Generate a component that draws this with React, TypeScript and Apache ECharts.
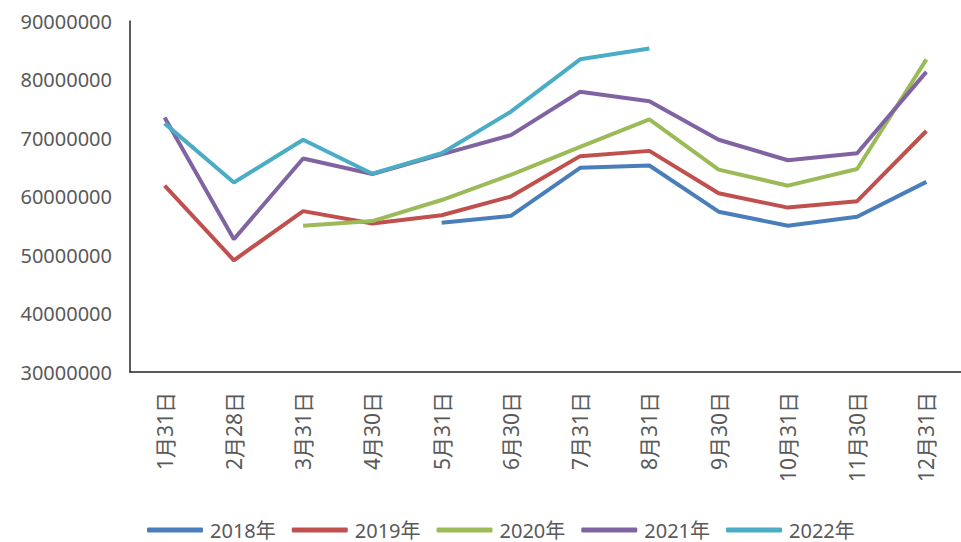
import React, { useEffect, useRef } from "react";
import * as echarts from "echarts";

const categories = ["1月31日", "2月28日", "3月31日", "4月30日", "5月31日", "6月30日", "7月31日", "8月31日", "9月30日", "10月31日", "11月30日", "12月31日"];
const yAxisTicks = [30000000, 40000000, 50000000, 60000000, 70000000, 80000000, 90000000];
const seriesNames = ["2018年", "2019年", "2020年", "2021年", "2022年"];
const s2018 = [null, null, null, null, 55500000, 56700000, 64900000, 65300000, 57400000, 55000000, 56550000, 62500000];
const s2019 = [61850000, 49100000, 57500000, 55400000, 56800000, 60000000, 66900000, 67800000, 60550000, 58100000, 59200000, 71200000];
const s2020 = [null, null, 55000000, 55800000, 59400000, 63700000, 68500000, 73200000, 64600000, 61850000, 64700000, 83450000];
const s2021 = [73500000, 52700000, 66500000, 63850000, 67200000, 70500000, 77900000, 76300000, 69700000, 66200000, 67400000, 81300000];
const s2022 = [72500000, 62400000, 69700000, 63900000, 67400000, 74500000, 83450000, 85300000, null, null, null, null];
const colors = ["#4A7EBB", "#C0504D", "#9BBB59", "#8064A2", "#4BACC6"];

export default function App() {
  const ref = useRef<HTMLDivElement>(null);
  useEffect(() => {
    if (!ref.current) return;
    const chart = echarts.init(ref.current, null, { renderer: "svg" });
    const data = [s2018, s2019, s2020, s2021, s2022];
    chart.setOption({
      animation: false,
      color: colors,
      grid: { left: 130, top: 21, bottom: 170, right: -17, containLabel: false },
      legend: {
        top: 519,
        left: 147,
        padding: 0,
        itemWidth: 56,
        itemHeight: 5,
        itemGap: 16,
        icon: "roundRect",
        textStyle: { color: "#595959", fontSize: 20, lineHeight: 22, fontFamily: "Noto Sans, Noto Sans CJK SC", padding: [0, 0, 0, 2] },
        data: seriesNames,
      },
      xAxis: {
        type: "category",
        data: categories,
        boundaryGap: true,
        axisLine: { show: true, lineStyle: { color: "#262626", width: 1.5 } },
        axisTick: { show: false },
        axisLabel: {
          rotate: 90,
          margin: 20,
          color: "#595959",
          fontSize: 21,
          fontFamily: "Noto Sans, Noto Sans CJK SC",
          interval: 0,
        },
      },
      yAxis: {
        type: "value",
        min: yAxisTicks[0],
        max: yAxisTicks[yAxisTicks.length - 1],
        interval: 10000000,
        splitLine: { show: false },
        axisLine: { show: true, lineStyle: { color: "#262626", width: 1.5 } },
        axisTick: { show: false },
        axisLabel: {
          margin: 18,
          color: "#595959",
          fontSize: 20,
          fontFamily: "Noto Sans",
          formatter: (v: number) => String(v),
        },
      },
      series: seriesNames.map((name, i) => ({
        name,
        type: "line",
        data: data[i],
        symbol: "none",
        showSymbol: false,
        connectNulls: false,
        lineStyle: { width: 4, color: colors[i] },
        itemStyle: { color: colors[i] },
      })),
    });
    return () => chart.dispose();
  }, []);
  return <div ref={ref} style={{ width: 961, height: 542, position: "absolute", left: 0, top: 0 }} />;
}
